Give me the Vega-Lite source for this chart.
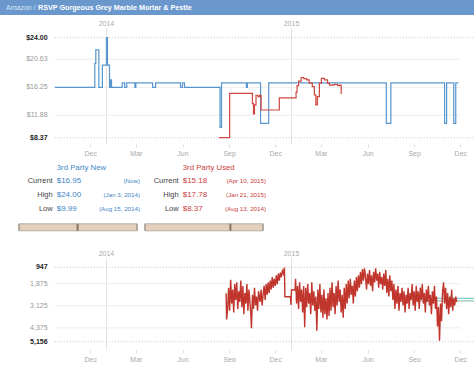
{
  "$schema": "https://vega.github.io/schema/vega-lite/v6.json",
  "padding": 0,
  "spacing": 4,
  "config": {
    "view": {"stroke": null},
    "font": "Liberation Sans",
    "text": {"font": "Liberation Sans"},
    "axis": {"labelFont": "Liberation Sans", "title": null}
  },
  "datasets": {
    "newPrice": [
      {"date": "2013-09-22", "price": 16.25},
      {"date": "2013-12-10", "price": 20.0},
      {"date": "2013-12-12", "price": 22.1},
      {"date": "2013-12-18", "price": 16.25},
      {"date": "2013-12-25", "price": 19.7},
      {"date": "2014-01-02", "price": 24.0},
      {"date": "2014-01-04", "price": 19.7},
      {"date": "2014-01-08", "price": 16.25},
      {"date": "2014-01-10", "price": 17.4},
      {"date": "2014-01-12", "price": 16.25},
      {"date": "2014-02-02", "price": 16.95},
      {"date": "2014-02-07", "price": 16.25},
      {"date": "2014-02-11", "price": 16.95},
      {"date": "2014-02-27", "price": 16.25},
      {"date": "2014-03-01", "price": 16.95},
      {"date": "2014-04-03", "price": 16.25},
      {"date": "2014-04-09", "price": 16.95},
      {"date": "2014-05-28", "price": 16.25},
      {"date": "2014-06-01", "price": 16.95},
      {"date": "2014-06-05", "price": 16.25},
      {"date": "2014-08-14", "price": 9.99},
      {"date": "2014-08-17", "price": 16.95},
      {"date": "2014-10-05", "price": 16.25},
      {"date": "2014-10-07", "price": 16.95},
      {"date": "2014-11-02", "price": 10.6},
      {"date": "2014-11-18", "price": 16.95},
      {"date": "2015-07-08", "price": 10.6},
      {"date": "2015-07-17", "price": 16.95},
      {"date": "2015-10-31", "price": 10.6},
      {"date": "2015-11-04", "price": 16.95},
      {"date": "2015-11-18", "price": 10.6},
      {"date": "2015-11-22", "price": 16.95},
      {"date": "2015-11-27", "price": 16.95}
    ],
    "usedPrice": [
      {"date": "2014-08-12", "price": 8.37},
      {"date": "2014-09-02", "price": 15.3},
      {"date": "2014-10-17", "price": 13.7},
      {"date": "2014-10-19", "price": 12.1},
      {"date": "2014-10-21", "price": 13.5},
      {"date": "2014-10-24", "price": 15.0},
      {"date": "2014-10-28", "price": 14.8},
      {"date": "2014-10-31", "price": 15.0},
      {"date": "2014-11-03", "price": 12.7},
      {"date": "2014-12-09", "price": 14.6},
      {"date": "2015-01-11", "price": 15.5},
      {"date": "2015-01-13", "price": 16.5},
      {"date": "2015-01-16", "price": 17.2},
      {"date": "2015-01-21", "price": 17.78},
      {"date": "2015-01-26", "price": 17.6},
      {"date": "2015-02-01", "price": 17.4},
      {"date": "2015-02-06", "price": 16.9},
      {"date": "2015-02-12", "price": 16.35},
      {"date": "2015-02-16", "price": 15.05},
      {"date": "2015-02-19", "price": 13.5},
      {"date": "2015-02-22", "price": 14.8},
      {"date": "2015-02-26", "price": 16.9},
      {"date": "2015-03-02", "price": 17.65},
      {"date": "2015-03-08", "price": 17.4},
      {"date": "2015-03-14", "price": 16.9},
      {"date": "2015-03-18", "price": 16.6},
      {"date": "2015-03-27", "price": 16.7},
      {"date": "2015-04-03", "price": 16.5},
      {"date": "2015-04-07", "price": 16.6},
      {"date": "2015-04-10", "price": 15.18}
    ],
    "priceGrid": [{"price": 24.0}, {"price": 20.63}, {"price": 16.25}, {"price": 11.88}, {"price": 8.37}],
    "rankGrid": [{"rank": 947}, {"rank": 1875}, {"rank": 3125}, {"rank": 4375}, {"rank": 5156}],
    "stats": [
      {"panel": "3rd Party New", "row": "Current", "price": 16.95, "when": "(Now)"},
      {"panel": "3rd Party New", "row": "High", "price": 24.0, "when": "(Jan 3, 2014)"},
      {"panel": "3rd Party New", "row": "Low", "price": 9.99, "when": "(Aug 15, 2014)"},
      {"panel": "3rd Party Used", "row": "Current", "price": 15.18, "when": "(Apr 10, 2015)"},
      {"panel": "3rd Party Used", "row": "High", "price": 17.78, "when": "(Jan 21, 2015)"},
      {"panel": "3rd Party Used", "row": "Low", "price": 8.37, "when": "(Aug 13, 2014)"}
    ],
    "ranges": [
      {"panel": "3rd Party New", "low": 9.99, "high": 24.0, "current": 16.95},
      {"panel": "3rd Party Used", "low": 8.37, "high": 17.78, "current": 15.18}
    ],
    "avg": [
      {"series": "a", "date": "2015-08-29", "rank": 2700},
      {"series": "a", "date": "2015-12-28", "rank": 2700},
      {"series": "b", "date": "2015-08-29", "rank": 2850},
      {"series": "b", "date": "2015-12-28", "rank": 2850}
    ],
    "rank": [
      {"date": "2014-08-26", "rank": 2420}, {"date": "2014-08-27", "rank": 3900}, {"date": "2014-08-29", "rank": 3300},
      {"date": "2014-08-31", "rank": 2100}, {"date": "2014-09-02", "rank": 3400}, {"date": "2014-09-04", "rank": 1650},
      {"date": "2014-09-06", "rank": 3000}, {"date": "2014-09-08", "rank": 2200}, {"date": "2014-09-10", "rank": 3500},
      {"date": "2014-09-12", "rank": 1900}, {"date": "2014-09-14", "rank": 2800}, {"date": "2014-09-16", "rank": 1800},
      {"date": "2014-09-18", "rank": 3300}, {"date": "2014-09-20", "rank": 2300}, {"date": "2014-09-22", "rank": 2900},
      {"date": "2014-09-24", "rank": 1700}, {"date": "2014-09-26", "rank": 3200}, {"date": "2014-09-28", "rank": 2000},
      {"date": "2014-09-30", "rank": 3600}, {"date": "2014-10-02", "rank": 2400}, {"date": "2014-10-04", "rank": 3000},
      {"date": "2014-10-06", "rank": 1900}, {"date": "2014-10-08", "rank": 3400}, {"date": "2014-10-10", "rank": 2200},
      {"date": "2014-10-12", "rank": 2900}, {"date": "2014-10-14", "rank": 3700}, {"date": "2014-10-15", "rank": 4400},
      {"date": "2014-10-17", "rank": 2500}, {"date": "2014-10-19", "rank": 3300}, {"date": "2014-10-21", "rank": 2100},
      {"date": "2014-10-23", "rank": 3100}, {"date": "2014-10-25", "rank": 2600}, {"date": "2014-10-27", "rank": 3400},
      {"date": "2014-10-29", "rank": 2300}, {"date": "2014-11-01", "rank": 2900}, {"date": "2014-11-03", "rank": 2200},
      {"date": "2014-11-05", "rank": 3100}, {"date": "2014-11-07", "rank": 2500}, {"date": "2014-11-09", "rank": 2000},
      {"date": "2014-11-11", "rank": 2800}, {"date": "2014-11-13", "rank": 1900}, {"date": "2014-11-15", "rank": 2500},
      {"date": "2014-11-17", "rank": 1800}, {"date": "2014-11-19", "rank": 2400}, {"date": "2014-11-21", "rank": 1700},
      {"date": "2014-11-23", "rank": 2200}, {"date": "2014-11-25", "rank": 1500}, {"date": "2014-11-27", "rank": 2100},
      {"date": "2014-11-29", "rank": 1600}, {"date": "2014-12-01", "rank": 2000}, {"date": "2014-12-03", "rank": 1400},
      {"date": "2014-12-05", "rank": 1900}, {"date": "2014-12-07", "rank": 1300}, {"date": "2014-12-09", "rank": 1700},
      {"date": "2014-12-11", "rank": 1250}, {"date": "2014-12-13", "rank": 1500}, {"date": "2014-12-15", "rank": 1150},
      {"date": "2014-12-17", "rank": 1300}, {"date": "2014-12-19", "rank": 960}, {"date": "2014-12-20", "rank": 2610},
      {"date": "2014-12-31", "rank": 2610}, {"date": "2015-01-01", "rank": 3080}, {"date": "2015-01-02", "rank": 2230},
      {"date": "2015-01-09", "rank": 2230}, {"date": "2015-01-10", "rank": 1600}, {"date": "2015-01-12", "rank": 3000},
      {"date": "2015-01-14", "rank": 2000}, {"date": "2015-01-16", "rank": 3300}, {"date": "2015-01-18", "rank": 1800},
      {"date": "2015-01-20", "rank": 2900}, {"date": "2015-01-22", "rank": 2200}, {"date": "2015-01-24", "rank": 3500},
      {"date": "2015-01-26", "rank": 2000}, {"date": "2015-01-28", "rank": 4340}, {"date": "2015-01-30", "rank": 2100},
      {"date": "2015-02-01", "rank": 3200}, {"date": "2015-02-03", "rank": 1900}, {"date": "2015-02-05", "rank": 3000},
      {"date": "2015-02-07", "rank": 2400}, {"date": "2015-02-09", "rank": 3600}, {"date": "2015-02-11", "rank": 1800},
      {"date": "2015-02-13", "rank": 3100}, {"date": "2015-02-15", "rank": 2300}, {"date": "2015-02-17", "rank": 3400},
      {"date": "2015-02-19", "rank": 2600}, {"date": "2015-02-21", "rank": 4530}, {"date": "2015-02-23", "rank": 2200},
      {"date": "2015-02-25", "rank": 3300}, {"date": "2015-02-27", "rank": 1900}, {"date": "2015-03-01", "rank": 3500},
      {"date": "2015-03-03", "rank": 2500}, {"date": "2015-03-05", "rank": 3800}, {"date": "2015-03-07", "rank": 2200},
      {"date": "2015-03-09", "rank": 3600}, {"date": "2015-03-11", "rank": 2700}, {"date": "2015-03-13", "rank": 3900},
      {"date": "2015-03-15", "rank": 2400}, {"date": "2015-03-17", "rank": 3700}, {"date": "2015-03-19", "rank": 2100},
      {"date": "2015-03-21", "rank": 3400}, {"date": "2015-03-23", "rank": 1800}, {"date": "2015-03-25", "rank": 3200},
      {"date": "2015-03-27", "rank": 2400}, {"date": "2015-03-29", "rank": 3600}, {"date": "2015-03-31", "rank": 2000},
      {"date": "2015-04-02", "rank": 3100}, {"date": "2015-04-04", "rank": 1700}, {"date": "2015-04-06", "rank": 2900},
      {"date": "2015-04-08", "rank": 2200}, {"date": "2015-04-10", "rank": 3500}, {"date": "2015-04-12", "rank": 2500},
      {"date": "2015-04-14", "rank": 3800}, {"date": "2015-04-16", "rank": 2100}, {"date": "2015-04-18", "rank": 3300},
      {"date": "2015-04-20", "rank": 1900}, {"date": "2015-04-22", "rank": 3000}, {"date": "2015-04-24", "rank": 1700},
      {"date": "2015-04-26", "rank": 2700}, {"date": "2015-04-28", "rank": 1600}, {"date": "2015-04-30", "rank": 2500},
      {"date": "2015-05-02", "rank": 2000}, {"date": "2015-05-04", "rank": 3000}, {"date": "2015-05-06", "rank": 1700},
      {"date": "2015-05-08", "rank": 2600}, {"date": "2015-05-10", "rank": 1500}, {"date": "2015-05-12", "rank": 2300},
      {"date": "2015-05-14", "rank": 1400}, {"date": "2015-05-16", "rank": 2100}, {"date": "2015-05-18", "rank": 1200},
      {"date": "2015-05-20", "rank": 1900}, {"date": "2015-05-22", "rank": 1050}, {"date": "2015-05-24", "rank": 1700},
      {"date": "2015-05-26", "rank": 1000}, {"date": "2015-05-28", "rank": 1500}, {"date": "2015-05-30", "rank": 2200},
      {"date": "2015-06-01", "rank": 1300}, {"date": "2015-06-03", "rank": 1900}, {"date": "2015-06-05", "rank": 1100},
      {"date": "2015-06-07", "rank": 2000}, {"date": "2015-06-09", "rank": 1400}, {"date": "2015-06-11", "rank": 2300},
      {"date": "2015-06-13", "rank": 1200}, {"date": "2015-06-15", "rank": 1800}, {"date": "2015-06-17", "rank": 1000},
      {"date": "2015-06-19", "rank": 1700}, {"date": "2015-06-21", "rank": 1300}, {"date": "2015-06-23", "rank": 2100},
      {"date": "2015-06-25", "rank": 1200}, {"date": "2015-06-27", "rank": 1900}, {"date": "2015-06-29", "rank": 1500},
      {"date": "2015-07-01", "rank": 2200}, {"date": "2015-07-03", "rank": 1300}, {"date": "2015-07-05", "rank": 2000},
      {"date": "2015-07-07", "rank": 1100}, {"date": "2015-07-09", "rank": 2400}, {"date": "2015-07-11", "rank": 1600},
      {"date": "2015-07-13", "rank": 2600}, {"date": "2015-07-15", "rank": 1400}, {"date": "2015-07-17", "rank": 2300},
      {"date": "2015-07-19", "rank": 1700}, {"date": "2015-07-21", "rank": 2800}, {"date": "2015-07-23", "rank": 1900},
      {"date": "2015-07-25", "rank": 3300}, {"date": "2015-07-27", "rank": 2200}, {"date": "2015-07-29", "rank": 3000},
      {"date": "2015-07-31", "rank": 2000}, {"date": "2015-08-02", "rank": 3400}, {"date": "2015-08-04", "rank": 2400},
      {"date": "2015-08-06", "rank": 2900}, {"date": "2015-08-08", "rank": 2100}, {"date": "2015-08-10", "rank": 3100},
      {"date": "2015-08-12", "rank": 2300}, {"date": "2015-08-14", "rank": 3500}, {"date": "2015-08-16", "rank": 2500},
      {"date": "2015-08-18", "rank": 3000}, {"date": "2015-08-20", "rank": 2100}, {"date": "2015-08-22", "rank": 3300},
      {"date": "2015-08-24", "rank": 2400}, {"date": "2015-08-26", "rank": 2800}, {"date": "2015-08-28", "rank": 1900},
      {"date": "2015-08-30", "rank": 3100}, {"date": "2015-09-01", "rank": 2300}, {"date": "2015-09-03", "rank": 3400},
      {"date": "2015-09-05", "rank": 2000}, {"date": "2015-09-07", "rank": 2900}, {"date": "2015-09-09", "rank": 2300},
      {"date": "2015-09-11", "rank": 3300}, {"date": "2015-09-13", "rank": 2100}, {"date": "2015-09-15", "rank": 2800},
      {"date": "2015-09-17", "rank": 1900}, {"date": "2015-09-19", "rank": 3000}, {"date": "2015-09-21", "rank": 2400},
      {"date": "2015-09-23", "rank": 3500}, {"date": "2015-09-25", "rank": 2200}, {"date": "2015-09-27", "rank": 2900},
      {"date": "2015-09-29", "rank": 2000}, {"date": "2015-10-01", "rank": 3100}, {"date": "2015-10-03", "rank": 2500},
      {"date": "2015-10-05", "rank": 3600}, {"date": "2015-10-07", "rank": 2300}, {"date": "2015-10-09", "rank": 3000},
      {"date": "2015-10-11", "rank": 2000}, {"date": "2015-10-13", "rank": 3300}, {"date": "2015-10-15", "rank": 2600},
      {"date": "2015-10-17", "rank": 4300}, {"date": "2015-10-19", "rank": 3200}, {"date": "2015-10-21", "rank": 5100},
      {"date": "2015-10-23", "rank": 3000}, {"date": "2015-10-25", "rank": 4000}, {"date": "2015-10-27", "rank": 2300},
      {"date": "2015-10-29", "rank": 1800}, {"date": "2015-10-31", "rank": 3000}, {"date": "2015-11-02", "rank": 2100},
      {"date": "2015-11-04", "rank": 3300}, {"date": "2015-11-06", "rank": 2400}, {"date": "2015-11-08", "rank": 3600},
      {"date": "2015-11-10", "rank": 2600}, {"date": "2015-11-12", "rank": 3200}, {"date": "2015-11-14", "rank": 2200},
      {"date": "2015-11-16", "rank": 3400}, {"date": "2015-11-18", "rank": 2700}, {"date": "2015-11-20", "rank": 3100},
      {"date": "2015-11-22", "rank": 2600}, {"date": "2015-11-24", "rank": 2900}
    ]
  },
  "vconcat": [
    {
      "width": 474,
      "height": 15,
      "view": {"fill": "#6a98cd", "stroke": null},
      "data": {"values": [{"part": "site", "label": "Amazon /"}, {"part": "product", "label": "RSVP Gorgeous Grey Marble Mortar & Pestle"}]},
      "layer": [
        {
          "transform": [{"filter": "datum.part == 'site'"}],
          "mark": {"type": "text", "align": "left", "baseline": "middle", "color": "#dbe7f5", "fontSize": 7},
          "encoding": {
            "x": {"field": "part", "type": "nominal", "scale": {"type": "point", "domain": ["site", "product"], "range": [6, 38], "padding": 0}, "axis": null},
            "text": {"field": "label"}
          }
        },
        {
          "transform": [{"filter": "datum.part == 'product'"}],
          "mark": {"type": "text", "align": "left", "baseline": "middle", "color": "#ffffff", "fontSize": 7.2, "fontWeight": "bold"},
          "encoding": {
            "x": {"field": "part", "type": "nominal", "scale": {"type": "point", "domain": ["site", "product"], "range": [6, 38], "padding": 0}, "axis": null},
            "text": {"field": "label"}
          }
        }
      ]
    },
    {
      "width": 474,
      "height": 117,
      "resolve": {"axis": {"x": "independent"}},
      "encoding": {
        "y": {"field": "price", "type": "quantitative", "scale": {"domain": [7.385, 25.67], "nice": false, "zero": false}, "axis": null}
      },
      "layer": [
        {
          "data": {"name": "priceGrid"},
          "transform": [{"filter": "datum.price == 24 || datum.price == 8.37"}],
          "mark": {"type": "rule", "color": "#c4c4c4", "strokeDash": [1, 2], "strokeWidth": 1},
          "encoding": {
            "x": {"datum": {"year": 2013, "month": 9, "date": 22, "utc": true}, "type": "temporal", "scale": {"type": "utc", "domain": [{"year": 2013, "month": 6, "date": 6, "utc": true}, {"year": 2015, "month": 12, "date": 28, "utc": true}]}, "axis": null},
            "x2": {"datum": {"year": 2015, "month": 12, "date": 28, "utc": true}}
          }
        },
        {
          "data": {"name": "priceGrid"},
          "transform": [{"filter": "datum.price != 24 && datum.price != 8.37"}],
          "mark": {"type": "rule", "color": "#ececec", "strokeWidth": 1},
          "encoding": {
            "x": {"datum": {"year": 2013, "month": 9, "date": 22, "utc": true}, "type": "temporal", "scale": {"type": "utc", "domain": [{"year": 2013, "month": 6, "date": 6, "utc": true}, {"year": 2015, "month": 12, "date": 28, "utc": true}]}, "axis": null},
            "x2": {"datum": {"year": 2015, "month": 12, "date": 1, "utc": true}}
          }
        },
        {
          "data": {"name": "priceGrid"},
          "transform": [{"filter": "datum.price == 24 || datum.price == 8.37"}],
          "mark": {"type": "text", "align": "right", "baseline": "middle", "fontSize": 7, "fontWeight": "bold", "color": "#222222"},
          "encoding": {
            "x": {"datum": {"year": 2013, "month": 9, "date": 8, "utc": true}, "type": "temporal", "scale": {"type": "utc", "domain": [{"year": 2013, "month": 6, "date": 6, "utc": true}, {"year": 2015, "month": 12, "date": 28, "utc": true}]}, "axis": null},
            "text": {"field": "price", "type": "quantitative", "format": "$.2f"}
          }
        },
        {
          "data": {"name": "priceGrid"},
          "transform": [{"filter": "datum.price != 24 && datum.price != 8.37"}],
          "mark": {"type": "text", "align": "right", "baseline": "middle", "fontSize": 7, "color": "#999999"},
          "encoding": {
            "x": {"datum": {"year": 2013, "month": 9, "date": 8, "utc": true}, "type": "temporal", "scale": {"type": "utc", "domain": [{"year": 2013, "month": 6, "date": 6, "utc": true}, {"year": 2015, "month": 12, "date": 28, "utc": true}]}, "axis": null},
            "text": {"field": "price", "type": "quantitative", "format": "$.2f"}
          }
        },
        {
          "data": {"name": "newPrice"},
          "mark": {"type": "line", "interpolate": "step-after", "color": "#5796cf", "strokeWidth": 1.2},
          "encoding": {
            "x": {"field": "date", "type": "temporal", "scale": {"type": "utc", "domain": [{"year": 2013, "month": 6, "date": 6, "utc": true}, {"year": 2015, "month": 12, "date": 28, "utc": true}]},
              "axis": {"orient": "bottom", "values": [{"year": 2013, "month": 12, "date": 1, "utc": true}, {"year": 2014, "month": 3, "date": 1, "utc": true}, {"year": 2014, "month": 6, "date": 1, "utc": true}, {"year": 2014, "month": 9, "date": 1, "utc": true}, {"year": 2014, "month": 12, "date": 1, "utc": true}, {"year": 2015, "month": 3, "date": 1, "utc": true}, {"year": 2015, "month": 6, "date": 1, "utc": true}, {"year": 2015, "month": 9, "date": 1, "utc": true}, {"year": 2015, "month": 12, "date": 1, "utc": true}],
                "labelExpr": "utcFormat(datum.value, '%b')", "domain": false, "grid": false, "tickColor": "#dddddd", "tickSize": 3, "labelColor": "#aaaaaa", "labelFontSize": 7, "labelPadding": 2, "labelFlush": false}}
          }
        },
        {
          "data": {"name": "usedPrice"},
          "mark": {"type": "line", "interpolate": "step-after", "color": "#d0463f", "strokeWidth": 1.2},
          "encoding": {
            "x": {"field": "date", "type": "temporal", "scale": {"type": "utc", "domain": [{"year": 2013, "month": 6, "date": 6, "utc": true}, {"year": 2015, "month": 12, "date": 28, "utc": true}]},
              "axis": {"orient": "top", "values": [{"year": 2014, "month": 1, "date": 1, "utc": true}, {"year": 2015, "month": 1, "date": 1, "utc": true}],
                "labelExpr": "utcFormat(datum.value, '%Y')", "domain": false, "ticks": false, "grid": true, "gridColor": "#e4e4e4", "labelColor": "#aaaaaa", "labelFontSize": 7, "labelPadding": 1, "labelFlush": false}}
          }
        }
      ]
    },
    {
      "bounds": "flush",
      "spacing": 8,
      "hconcat": [
        {
          "width": 11,
          "height": 85,
          "data": {"values": [{"blank": ""}]},
          "mark": {"type": "text"},
          "encoding": {"text": {"field": "blank"}}
        },
        {
          "width": 118,
          "height": 85,
          "resolve": {"scale": {"x": "independent", "y": "independent"}},
          "layer": [
            {
              "layer": [
                {
                  "data": {"name": "ranges"},
                  "transform": [{"filter": "datum.panel == '3rd Party New'"}],
                  "mark": {"type": "text", "align": "left", "baseline": "middle", "fontSize": 7.8, "color": "#3f86c6", "dx": 2},
                  "encoding": {
                    "x": {"datum": "mid", "type": "nominal", "scale": {"type": "point", "domain": ["mid", "date"], "range": [35.7, 121], "padding": 0}, "axis": null},
                    "y": {"datum": "head", "type": "nominal", "scale": {"type": "point", "domain": ["head", "Current", "High", "Low"], "range": [7.7, 49], "padding": 0}, "axis": null},
                    "text": {"field": "panel"}
                  }
                },
                {
                  "data": {"name": "stats"},
                  "transform": [{"filter": "datum.panel == '3rd Party New'"}],
                  "mark": {"type": "text", "align": "right", "baseline": "middle", "fontSize": 7.5, "color": "#444444", "dx": -2},
                  "encoding": {
                    "x": {"datum": "mid", "type": "nominal", "axis": null},
                    "y": {"field": "row", "type": "nominal", "axis": null},
                    "text": {"field": "row"}
                  }
                },
                {
                  "data": {"name": "stats"},
                  "transform": [{"filter": "datum.panel == '3rd Party New'"}],
                  "mark": {"type": "text", "align": "left", "baseline": "middle", "fontSize": 8, "color": "#3f86c6", "dx": 2},
                  "encoding": {
                    "x": {"datum": "mid", "type": "nominal", "axis": null},
                    "y": {"field": "row", "type": "nominal", "axis": null},
                    "text": {"field": "price", "type": "quantitative", "format": "$.2f"}
                  }
                },
                {
                  "data": {"name": "stats"},
                  "transform": [{"filter": "datum.panel == '3rd Party New'"}],
                  "mark": {"type": "text", "align": "right", "baseline": "middle", "fontSize": 6.2, "color": "#3f86c6"},
                  "encoding": {
                    "x": {"datum": "date", "type": "nominal", "axis": null},
                    "y": {"field": "row", "type": "nominal", "axis": null},
                    "text": {"field": "when"}
                  }
                }
              ]
            },
            {
              "data": {"name": "ranges"},
              "transform": [{"filter": "datum.panel == '3rd Party New'"}],
              "encoding": {
                "y": {"datum": "bar", "type": "nominal", "scale": {"type": "point", "domain": ["Low", "bar"], "range": [49, 67.3], "padding": 0}, "axis": null}
              },
              "layer": [
                {
                  "mark": {"type": "bar", "orient": "horizontal", "size": 7, "fill": "#e4cfbb", "stroke": "#b9b0a6", "strokeWidth": 1},
                  "encoding": {
                    "x": {"field": "low", "type": "quantitative", "scale": {"zero": false, "nice": false}, "axis": null},
                    "x2": {"field": "high"}
                  }
                },
                {
                  "mark": {"type": "tick", "orient": "vertical", "size": 7, "thickness": 2, "color": "#a39b93"},
                  "encoding": {"x": {"field": "low", "type": "quantitative", "axis": null}}
                },
                {
                  "mark": {"type": "tick", "orient": "vertical", "size": 7, "thickness": 2, "color": "#a39b93"},
                  "encoding": {"x": {"field": "high", "type": "quantitative", "axis": null}}
                },
                {
                  "mark": {"type": "tick", "orient": "vertical", "size": 7, "thickness": 2, "color": "#5f4f42"},
                  "encoding": {"x": {"field": "current", "type": "quantitative", "axis": null}}
                }
              ]
            }
          ]
        },
        {
          "width": 118,
          "height": 85,
          "resolve": {"scale": {"x": "independent", "y": "independent"}},
          "layer": [
            {
              "layer": [
                {
                  "data": {"name": "ranges"},
                  "transform": [{"filter": "datum.panel == '3rd Party Used'"}],
                  "mark": {"type": "text", "align": "left", "baseline": "middle", "fontSize": 7.8, "color": "#c9403a", "dx": 2},
                  "encoding": {
                    "x": {"datum": "mid", "type": "nominal", "scale": {"type": "point", "domain": ["mid", "date"], "range": [35.7, 121], "padding": 0}, "axis": null},
                    "y": {"datum": "head", "type": "nominal", "scale": {"type": "point", "domain": ["head", "Current", "High", "Low"], "range": [7.7, 49], "padding": 0}, "axis": null},
                    "text": {"field": "panel"}
                  }
                },
                {
                  "data": {"name": "stats"},
                  "transform": [{"filter": "datum.panel == '3rd Party Used'"}],
                  "mark": {"type": "text", "align": "right", "baseline": "middle", "fontSize": 7.5, "color": "#444444", "dx": -2},
                  "encoding": {
                    "x": {"datum": "mid", "type": "nominal", "axis": null},
                    "y": {"field": "row", "type": "nominal", "axis": null},
                    "text": {"field": "row"}
                  }
                },
                {
                  "data": {"name": "stats"},
                  "transform": [{"filter": "datum.panel == '3rd Party Used'"}],
                  "mark": {"type": "text", "align": "left", "baseline": "middle", "fontSize": 8, "color": "#c9403a", "dx": 2},
                  "encoding": {
                    "x": {"datum": "mid", "type": "nominal", "axis": null},
                    "y": {"field": "row", "type": "nominal", "axis": null},
                    "text": {"field": "price", "type": "quantitative", "format": "$.2f"}
                  }
                },
                {
                  "data": {"name": "stats"},
                  "transform": [{"filter": "datum.panel == '3rd Party Used'"}],
                  "mark": {"type": "text", "align": "right", "baseline": "middle", "fontSize": 6.2, "color": "#c9403a"},
                  "encoding": {
                    "x": {"datum": "date", "type": "nominal", "axis": null},
                    "y": {"field": "row", "type": "nominal", "axis": null},
                    "text": {"field": "when"}
                  }
                }
              ]
            },
            {
              "data": {"name": "ranges"},
              "transform": [{"filter": "datum.panel == '3rd Party Used'"}],
              "encoding": {
                "y": {"datum": "bar", "type": "nominal", "scale": {"type": "point", "domain": ["Low", "bar"], "range": [49, 67.3], "padding": 0}, "axis": null}
              },
              "layer": [
                {
                  "mark": {"type": "bar", "orient": "horizontal", "size": 7, "fill": "#e4cfbb", "stroke": "#b9b0a6", "strokeWidth": 1},
                  "encoding": {
                    "x": {"field": "low", "type": "quantitative", "scale": {"zero": false, "nice": false}, "axis": null},
                    "x2": {"field": "high"}
                  }
                },
                {
                  "mark": {"type": "tick", "orient": "vertical", "size": 7, "thickness": 2, "color": "#a39b93"},
                  "encoding": {"x": {"field": "low", "type": "quantitative", "axis": null}}
                },
                {
                  "mark": {"type": "tick", "orient": "vertical", "size": 7, "thickness": 2, "color": "#a39b93"},
                  "encoding": {"x": {"field": "high", "type": "quantitative", "axis": null}}
                },
                {
                  "mark": {"type": "tick", "orient": "vertical", "size": 7, "thickness": 2, "color": "#5f4f42"},
                  "encoding": {"x": {"field": "current", "type": "quantitative", "axis": null}}
                }
              ]
            }
          ]
        }
      ]
    },
    {
      "width": 474,
      "height": 93,
      "resolve": {"axis": {"x": "independent"}},
      "encoding": {
        "y": {"field": "rank", "type": "quantitative", "scale": {"domain": [364, 5626], "reverse": true, "nice": false, "zero": false}, "axis": null}
      },
      "layer": [
        {
          "data": {"name": "rankGrid"},
          "transform": [{"filter": "datum.rank == 947 || datum.rank == 5156"}],
          "mark": {"type": "rule", "color": "#c4c4c4", "strokeDash": [1, 2], "strokeWidth": 1},
          "encoding": {
            "x": {"datum": {"year": 2013, "month": 9, "date": 22, "utc": true}, "type": "temporal", "scale": {"type": "utc", "domain": [{"year": 2013, "month": 6, "date": 6, "utc": true}, {"year": 2015, "month": 12, "date": 28, "utc": true}]}, "axis": null},
            "x2": {"datum": {"year": 2015, "month": 12, "date": 28, "utc": true}}
          }
        },
        {
          "data": {"name": "rankGrid"},
          "transform": [{"filter": "datum.rank != 947 && datum.rank != 5156"}],
          "mark": {"type": "rule", "color": "#ececec", "strokeWidth": 1},
          "encoding": {
            "x": {"datum": {"year": 2013, "month": 9, "date": 22, "utc": true}, "type": "temporal", "scale": {"type": "utc", "domain": [{"year": 2013, "month": 6, "date": 6, "utc": true}, {"year": 2015, "month": 12, "date": 28, "utc": true}]}, "axis": null},
            "x2": {"datum": {"year": 2015, "month": 12, "date": 1, "utc": true}}
          }
        },
        {
          "data": {"name": "rankGrid"},
          "transform": [{"filter": "datum.rank == 947 || datum.rank == 5156"}],
          "mark": {"type": "text", "align": "right", "baseline": "middle", "fontSize": 7, "fontWeight": "bold", "color": "#222222"},
          "encoding": {
            "x": {"datum": {"year": 2013, "month": 9, "date": 8, "utc": true}, "type": "temporal", "scale": {"type": "utc", "domain": [{"year": 2013, "month": 6, "date": 6, "utc": true}, {"year": 2015, "month": 12, "date": 28, "utc": true}]}, "axis": null},
            "text": {"field": "rank", "type": "quantitative", "format": ",d"}
          }
        },
        {
          "data": {"name": "rankGrid"},
          "transform": [{"filter": "datum.rank != 947 && datum.rank != 5156"}],
          "mark": {"type": "text", "align": "right", "baseline": "middle", "fontSize": 7, "color": "#999999"},
          "encoding": {
            "x": {"datum": {"year": 2013, "month": 9, "date": 8, "utc": true}, "type": "temporal", "scale": {"type": "utc", "domain": [{"year": 2013, "month": 6, "date": 6, "utc": true}, {"year": 2015, "month": 12, "date": 28, "utc": true}]}, "axis": null},
            "text": {"field": "rank", "type": "quantitative", "format": ",d"}
          }
        },
        {
          "data": {"name": "avg"},
          "mark": {"type": "line", "strokeWidth": 1},
          "encoding": {
            "x": {"field": "date", "type": "temporal", "scale": {"type": "utc", "domain": [{"year": 2013, "month": 6, "date": 6, "utc": true}, {"year": 2015, "month": 12, "date": 28, "utc": true}]}, "axis": null},
            "color": {"field": "series", "type": "nominal", "scale": {"domain": ["a", "b"], "range": ["#5cc0c4", "#7db7a8"]}, "legend": null}
          }
        },
        {
          "data": {"name": "rank"},
          "mark": {"type": "line", "color": "#c0352c", "strokeWidth": 1.4},
          "encoding": {
            "x": {"field": "date", "type": "temporal", "scale": {"type": "utc", "domain": [{"year": 2013, "month": 6, "date": 6, "utc": true}, {"year": 2015, "month": 12, "date": 28, "utc": true}]},
              "axis": {"orient": "bottom", "values": [{"year": 2013, "month": 12, "date": 1, "utc": true}, {"year": 2014, "month": 3, "date": 1, "utc": true}, {"year": 2014, "month": 6, "date": 1, "utc": true}, {"year": 2014, "month": 9, "date": 1, "utc": true}, {"year": 2014, "month": 12, "date": 1, "utc": true}, {"year": 2015, "month": 3, "date": 1, "utc": true}, {"year": 2015, "month": 6, "date": 1, "utc": true}, {"year": 2015, "month": 9, "date": 1, "utc": true}, {"year": 2015, "month": 12, "date": 1, "utc": true}],
                "labelExpr": "utcFormat(datum.value, '%b')", "domain": false, "grid": false, "tickColor": "#dddddd", "tickSize": 3, "labelColor": "#aaaaaa", "labelFontSize": 7, "labelPadding": 2, "labelFlush": false}}
          }
        },
        {
          "data": {"name": "rank"},
          "transform": [{"filter": "datum.rank < 0"}],
          "mark": {"type": "line", "color": "#c0352c"},
          "encoding": {
            "x": {"field": "date", "type": "temporal", "scale": {"type": "utc", "domain": [{"year": 2013, "month": 6, "date": 6, "utc": true}, {"year": 2015, "month": 12, "date": 28, "utc": true}]},
              "axis": {"orient": "top", "values": [{"year": 2014, "month": 1, "date": 1, "utc": true}, {"year": 2015, "month": 1, "date": 1, "utc": true}],
                "labelExpr": "utcFormat(datum.value, '%Y')", "domain": false, "ticks": false, "grid": true, "gridColor": "#e4e4e4", "labelColor": "#aaaaaa", "labelFontSize": 7, "labelPadding": 1, "labelFlush": false}}
          }
        }
      ]
    }
  ]
}
